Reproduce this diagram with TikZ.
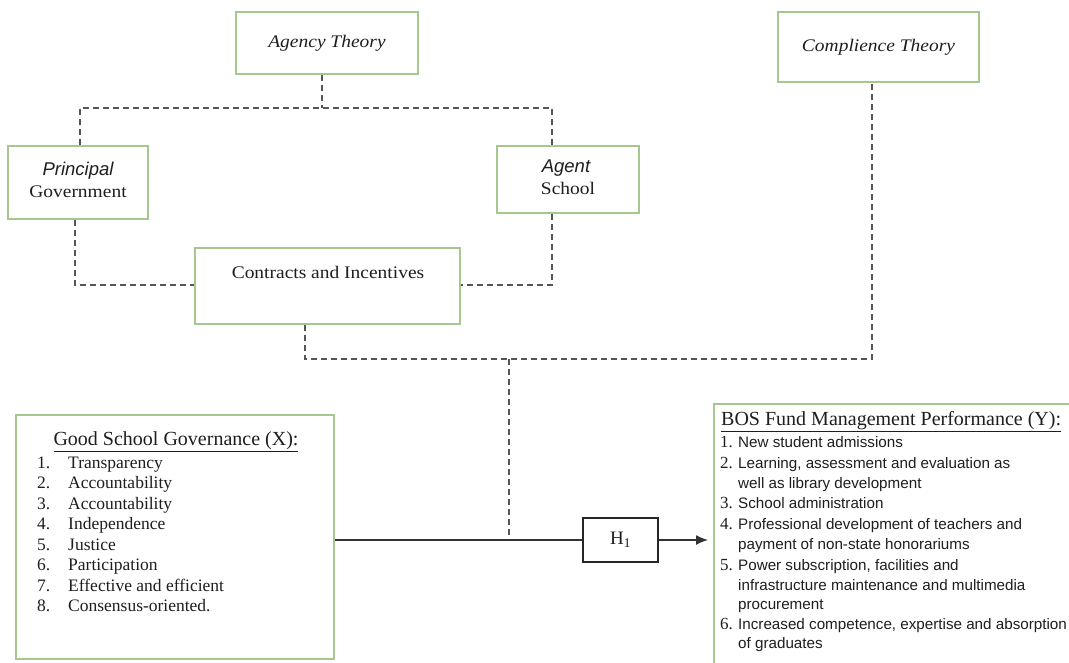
\documentclass[tikz,border=0pt]{standalone}
\usepackage{fontspec}
\setmainfont{Liberation Serif}
\newfontfamily\wideserif[FakeStretch=1.1]{Liberation Serif}
\newfontfamily\sansf{Liberation Sans}
\usetikzlibrary{arrows.meta}
\definecolor{boxgreen}{HTML}{A6C78F}
\definecolor{dashgray}{HTML}{555555}
\definecolor{txt}{HTML}{1E1E1E}
\begin{document}
\begin{tikzpicture}[x=1pt,y=-1pt,
  gbox/.style={draw=boxgreen, line width=1.5pt, inner sep=0pt, fill=white},
  dl/.style={draw=dashgray, line width=1.5pt, dash pattern=on 6pt off 4pt},
  topserif/.style={font=\wideserif\fontsize{17.7}{21}\selectfont, text=txt, inner sep=0pt},
  topital/.style={font=\wideserif\itshape\fontsize{17.7}{21}\selectfont, text=txt, inner sep=0pt},
  sansital/.style={font=\sansf\itshape\fontsize{18.5}{21}\selectfont, text=txt, inner sep=0pt},
  gtitle/.style={font=\fontsize{20}{22}\selectfont, text=txt, inner sep=0pt},
  gitem/.style={font=\fontsize{17.5}{20}\selectfont, text=txt, inner sep=0pt, anchor=mid west},
  bnum/.style={font=\fontsize{17}{20}\selectfont, text=txt, inner sep=0pt, anchor=mid west},
  bitem/.style={font=\sansf\fontsize{15.2}{20}\selectfont, text=txt, inner sep=0pt, anchor=mid west},
  solid/.style={draw=black!80, line width=1.4pt}
]
\useasboundingbox[fill=white] (0,0) rectangle (1069,662);

% boxes
\node[gbox, minimum width=182, minimum height=62, topital] (agency) at (327,43) {Agency Theory};
\node[gbox, minimum width=201, minimum height=70, topital] (compl) at (878.5,47) {Complience Theory};
\node[gbox, minimum width=140, minimum height=73] (principal) at (78,182.5) {};
\node[gbox, minimum width=142, minimum height=67] (agent) at (568,179.5) {};
\node[gbox, minimum width=265, minimum height=76] (contracts) at (327.5,286) {};
\node[gbox, minimum width=318, minimum height=244] (gsg) at (175,537) {};
\node[gbox, minimum width=380, minimum height=290, anchor=north west] (bos) at (713,403) {};
\node[draw=black!85, line width=1.3pt, minimum width=75, minimum height=44, inner sep=0pt,
      font=\fontsize{19}{21}\selectfont, text=txt] (h1) at (620.5,540) {H\textsubscript{1}};

% texts in boxes
\node[sansital, anchor=mid] (ptxt1) at (78,173) {Principal};
\node[topserif, anchor=mid] (ptxt2) at (78,195) {Government};
\node[sansital, anchor=mid] (atxt1) at (566,170) {Agent};
\node[topserif, anchor=mid] (atxt2) at (568,192) {School};
\node[topserif, anchor=mid] (ctxt) at (328,276) {Contracts and Incentives};

% Good School Governance
\node[gtitle, anchor=mid] (gt) at (176,443) {\underline{Good School Governance (X):}};
\foreach \i/\t in {1/Transparency,2/Accountability,3/Accountability,4/Independence,5/Justice,6/Participation,7/Effective and efficient,8/Consensus-oriented.}{
  \node[gitem] (gn\i) at (37,{466+(\i-1)*20.5}) {\i.};
  \node[gitem] (gi\i) at (68,{466+(\i-1)*20.5}) {\t};
}

% BOS
\node[gtitle, anchor=mid west] (bt) at (721,423) {\underline{BOS Fund Management Performance (Y):}};
\node[bnum] (bn1) at (720,445) {1.};
\node[bitem] (bi1) at (738,445) {New student admissions};
\node[bnum] (bn2) at (720,466) {2.};
\node[bitem] (bi2) at (738,466) {Learning, assessment and evaluation as};
\node[bitem] (bi2b) at (738,486) {well as library development};
\node[bnum] (bn3) at (720,506) {3.};
\node[bitem] (bi3) at (738,506) {School administration};
\node[bnum] (bn4) at (720,527) {4.};
\node[bitem] (bi4) at (738,527) {Professional development of teachers and};
\node[bitem] (bi4b) at (738,547) {payment of non-state honorariums};
\node[bnum] (bn5) at (720,568) {5.};
\node[bitem] (bi5) at (738,568) {Power subscription, facilities and};
\node[bitem] (bi5b) at (738,588) {infrastructure maintenance and multimedia};
\node[bitem] (bi5c) at (738,607) {procurement};
\node[bnum] (bn6) at (720,627) {6.};
\node[bitem] (bi6) at (738,627) {Increased competence, expertise and absorption};
\node[bitem] (bi6b) at (738,646) {of graduates};

% dashed connectors
\coordinate (jt) at (322,108);
\coordinate (pA) at (80,108);
\coordinate (pB) at (552,108);
\draw[dl] (agency.south -| jt) -- (jt);
\draw[dl] (principal.north -| pA) -- (pA) -- (pB) -- (agent.north -| pB);
\coordinate (qA) at (75,285);
\coordinate (qB) at (552,285);
\draw[dl] (principal.south -| qA) -- (qA) -- (contracts.west |- qA);
\draw[dl] (agent.south -| qB) -- (qB) -- (contracts.east |- qB);
\coordinate (r1) at (305,359);
\coordinate (r2) at (872,359);
\coordinate (r3) at (509,359);
\draw[dl] (contracts.south -| r1) -- (r1) -- (r2) -- (compl.south -| r2);
\draw[dl] (r3) -- (r3 |- h1);

% solid connectors
\draw[solid] (gsg.east |- h1) -- (h1.west);
\draw[solid, -{Latex[length=12pt,width=10pt]}] (h1.east) -- ([xshift=-5pt]bos.west |- h1);
\end{tikzpicture}
\end{document}
